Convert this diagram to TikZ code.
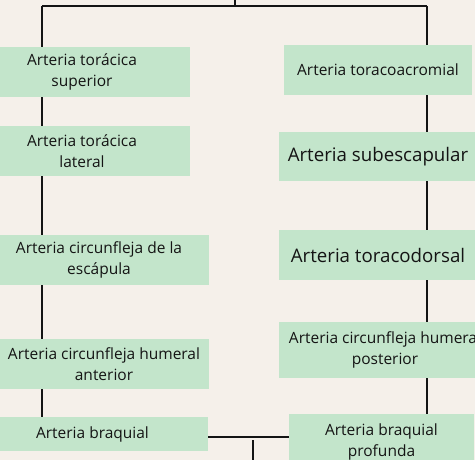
\documentclass[tikz,border=0pt]{standalone}
\usepackage{fontspec}
\setmainfont{Open Sans}
\definecolor{bgc}{HTML}{F5F0EA}
\definecolor{boxc}{HTML}{C3E5CB}
\definecolor{linec}{HTML}{141414}
\begin{document}
\begin{tikzpicture}[x=1pt,y=-1pt,
  box/.style={fill=boxc, draw=none, inner sep=0pt, align=center, text=linec,
    font=\fontsize{15.5}{21}\selectfont},
  bigbox/.style={box, font=\fontsize{18.7}{21}\selectfont},
  conn/.style={draw=linec, line width=2pt}]
\useasboundingbox (0,0) rectangle (475,460);
\fill[bgc] (0,0) rectangle (475,460);
\clip (0,0) rectangle (475,460);
% coordinates
\coordinate (top) at (235,0);
\coordinate (t) at (235,6);
\coordinate (tl) at (42,6);
\coordinate (tr) at (427,6);
\coordinate (bot) at (253,460);
\coordinate (bj) at (253,437);
% left
\node[box, minimum width=216, minimum height=50] (L1) at (82,72) {Arteria torácica\\superior};
\node[box, minimum width=216, minimum height=50] (L2) at (82,151) {Arteria torácica\\lateral};
\node[box, minimum width=220, minimum height=50] (L3) at (99,260) {Arteria circunfleja de la\\escápula};
\node[box, minimum width=210, minimum height=50] (L4) at (104,364) {Arteria circunfleja humeral\\anterior};
\node[box, minimum width=231, minimum height=34] (L5) at (92.5,434) {Arteria braquial};
% right
\node[box, minimum width=188, minimum height=50] (R1) at (378,70) {Arteria toracoacromial};
\node[bigbox, minimum width=198, minimum height=49] (R2) at (378,156.5) {Arteria subescapular};
\node[bigbox, minimum width=198, minimum height=50] (R3) at (378,255) {Arteria toracodorsal};
\node[box, minimum width=212, minimum height=56] (R4) at (385,350) {Arteria circunfleja humeral\\posterior};
\node[box, minimum width=185, minimum height=56] (R5) at (381.5,442) {Arteria braquial\\profunda};
% connectors
\draw[conn] (top) -- (t);
\draw[conn] (tl) -- (tr);
\draw[conn] (tl) -- (tl |- L1.north);
\draw[conn] (tl |- L1.south) -- (tl |- L2.north);
\draw[conn] (tl |- L2.south) -- (tl |- L3.north);
\draw[conn] (tl |- L3.south) -- (tl |- L4.north);
\draw[conn] (tl |- L4.south) -- (tl |- L5.north);
\draw[conn] (tr) -- (tr |- R1.north);
\draw[conn] (tr |- R1.south) -- (tr |- R2.north);
\draw[conn] (tr |- R2.south) -- (tr |- R3.north);
\draw[conn] (tr |- R3.south) -- (tr |- R4.north);
\draw[conn] (tr |- R4.south) -- (tr |- R5.north);
\draw[conn] (L5.east |- bj) -- (R5.west |- bj);
\draw[conn] (bj) ++(0,3) -- (bot);
\end{tikzpicture}
\end{document}
